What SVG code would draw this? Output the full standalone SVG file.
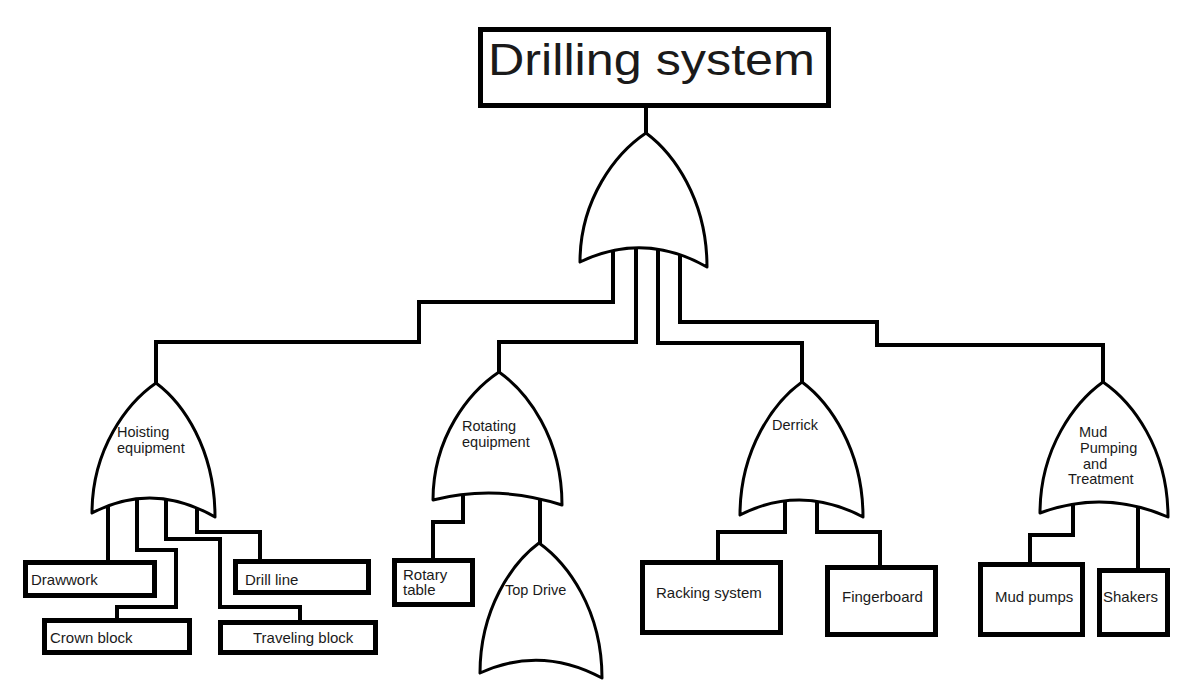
<svg xmlns="http://www.w3.org/2000/svg" width="1188" height="688" viewBox="0 0 1188 688">
<style>
.box{fill:#fff;stroke:#000;stroke-width:5}
.gate{fill:#fff;stroke:#000;stroke-width:3;stroke-linejoin:round}
.con{fill:none;stroke:#000;stroke-width:4;stroke-linejoin:miter}
text{font-family:"Liberation Sans",Arial,sans-serif;fill:#1a1a1a}
.g{font-size:14.5px}
.b{font-size:15px}
</style>
<rect width="1188" height="688" fill="#fff"/>
<g id="connectors">
<path class="con" d="M646,108 V135"/>
<path class="con" d="M613,250 V302 H419 V342 H156 V385"/>
<path class="con" d="M636,248 V342 H499 V374"/>
<path class="con" d="M658,248 V343 H802 V384"/>
<path class="con" d="M680,252 V322 H877 V345 H1103 V384"/>
<path class="con" d="M108,505 V560"/>
<path class="con" d="M137,500 V550 H176 V607 H117 V618"/>
<path class="con" d="M166,500 V539 H220 V607 H300 V620"/>
<path class="con" d="M197,505 V532 H260 V559"/>
<path class="con" d="M463,495 V522 H433 V558"/>
<path class="con" d="M540,495 V545"/>
<path class="con" d="M785,500 V532 H718 V560"/>
<path class="con" d="M817,500 V532 H880 V565"/>
<path class="con" d="M1073,505 V535 H1030 V562"/>
<path class="con" d="M1138,505 V568"/>
</g>
<g id="drilling-system">
<rect class="box" x="480.5" y="29.5" width="348" height="76"/>
<text x="488" y="75" font-size="44" textLength="327" lengthAdjust="spacingAndGlyphs">Drilling system</text>
</g>
<g id="or-top">
<path class="gate" d="M580,262 C580,199 616,153 646,133 C673,153 707,199 707,267 Q644,231 580,262 Z"/>
</g>
<g id="hoisting">
<path class="gate" d="M92,513 C92,449 127,403 156,383 C183,403 215,449 215,517 Q153,481 92,513 Z"/>
<text class="g" x="117" y="437">Hoisting</text>
<text class="g" x="117" y="453">equipment</text>
</g>
<g id="rotating">
<path class="gate" d="M433,500 C433,437 469,392 499,372 C527,392 562,437 562,505 Q497,484 433,500 Z"/>
<text class="g" x="462" y="431">Rotating</text>
<text class="g" x="462" y="447">equipment</text>
</g>
<g id="derrick">
<path class="gate" d="M740,515 C740,449 774,402 802,382 C829,402 863,449 863,517 Q801,484 740,515 Z"/>
<text class="g" x="795" y="430" text-anchor="middle">Derrick</text>
</g>
<g id="mud">
<path class="gate" d="M1040,513 C1040,448 1075,402 1103,382 C1132,402 1168,448 1168,517 Q1104,489 1040,513 Z"/>
<text class="g" x="1079" y="437">Mud</text>
<text class="g" x="1080" y="453">Pumping</text>
<text class="g" x="1083" y="469">and</text>
<text class="g" x="1068" y="484">Treatment</text>
</g>
<g id="top-drive">
<path class="gate" d="M480,673 C480,609 512,563 539,543 C567,563 602,609 602,678 Q541,645 480,673 Z"/>
<text class="g" x="505" y="595">Top Drive</text>
</g>
<g id="drawwork">
<rect class="box" x="25.5" y="562.5" width="129" height="33"/>
<text class="b" x="31" y="585">Drawwork</text>
</g>
<g id="crown-block">
<rect class="box" x="44.5" y="620.5" width="145" height="32"/>
<text class="b" x="50" y="643">Crown block</text>
</g>
<g id="drill-line">
<rect class="box" x="235.5" y="561.5" width="133" height="31"/>
<text class="b" x="245" y="585">Drill line</text>
</g>
<g id="traveling-block">
<rect class="box" x="220.5" y="622.5" width="155" height="30"/>
<text class="b" x="253" y="643">Traveling block</text>
</g>
<g id="rotary-table">
<rect class="box" x="394.5" y="560.5" width="78" height="44"/>
<text class="b" x="403" y="580">Rotary</text>
<text class="b" x="403" y="595">table</text>
</g>
<g id="racking-system">
<rect class="box" x="642.5" y="562.5" width="138" height="70"/>
<text class="b" x="656" y="598">Racking system</text>
</g>
<g id="fingerboard">
<rect class="box" x="827.5" y="567.5" width="108" height="67"/>
<text class="b" x="842" y="602">Fingerboard</text>
</g>
<g id="mud-pumps">
<rect class="box" x="980.5" y="564.5" width="102" height="70"/>
<text class="b" x="995" y="602">Mud pumps</text>
</g>
<g id="shakers">
<rect class="box" x="1099.5" y="570.5" width="68" height="64"/>
<text class="b" x="1103" y="602">Shakers</text>
</g>
</svg>
